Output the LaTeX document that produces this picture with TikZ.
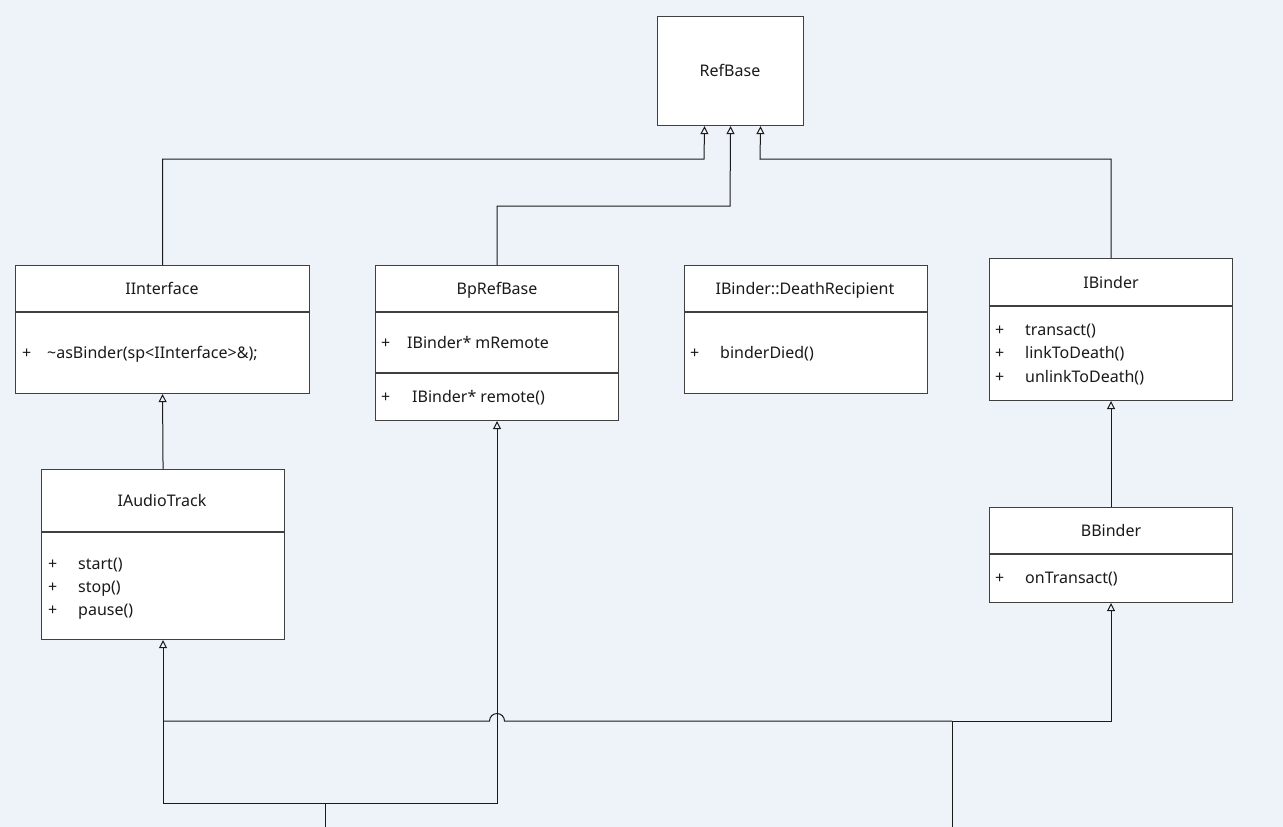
\documentclass[tikz,border=0pt]{standalone}
\usepackage{fontspec}
\setmainfont{Noto Sans}
\usetikzlibrary{arrows.meta}
\definecolor{canvas}{HTML}{EEF2F9}
\definecolor{edge}{HTML}{404040}
\definecolor{ink}{HTML}{1A1A1A}
\begin{document}
\begin{tikzpicture}[x=1pt,y=-1pt,
  font=\fontsize{16}{18}\selectfont,
  cls/.style={draw=edge,line width=1.1pt,fill=white,rectangle,inner sep=0pt,anchor=north west},
  title/.style={text=ink,inner sep=0pt,text height=13pt,text depth=2pt,anchor=center},
  member/.style={text=ink,inner sep=0pt,text height=13pt,text depth=2pt,anchor=west},
  sep/.style={draw=edge,line width=1.1pt},
  inh/.style={draw=ink,line width=1pt,-{Triangle[open,length=8pt,width=8pt]}},
  wire/.style={draw=ink,line width=1pt}]
\fill[canvas] (0,0) rectangle (1283,827);
\useasboundingbox (0,0) rectangle (1283,827);

% RefBase
\node[cls,minimum width=146pt,minimum height=109pt] (refbase) at (657,16) {};
\node[title] (refbaseT) at (730,71) {RefBase};

% IInterface
\node[cls,minimum width=294pt,minimum height=128pt] (iinterface) at (15,265) {};
\draw[sep] (15,312) -- (309,312);
\node[title] (iinterfaceT) at (162,289) {IInterface};
\node[member] (iinterfaceP) at (22,353) {+};
\node[member] (iinterfaceM) at (47,353) {\textasciitilde asBinder(sp<IInterface>\&);};

% BpRefBase
\node[cls,minimum width=243pt,minimum height=155pt] (bprefbase) at (375,265) {};
\draw[sep] (375,312) -- (618,312);
\draw[sep] (375,373) -- (618,373);
\node[title] (bprefbaseT) at (497,289) {BpRefBase};
\node[member] (bprefbaseP1) at (381,343) {+};
\node[member] (bprefbaseM1) at (407,343) {IBinder* mRemote};
\node[member] (bprefbaseP2) at (381,397) {+};
\node[member] (bprefbaseM2) at (412,397) {IBinder* remote()};

% IBinder::DeathRecipient
\node[cls,minimum width=243pt,minimum height=128pt] (death) at (684,265) {};
\draw[sep] (684,312) -- (927,312);
\node[title] (deathT) at (805,289) {IBinder::DeathRecipient};
\node[member] (deathP) at (690,353) {+};
\node[member] (deathM) at (720,353) {binderDied()};

% IBinder
\node[cls,minimum width=243pt,minimum height=142pt] (ibinder) at (989,258) {};
\draw[sep] (989,306) -- (1232,306);
\node[title] (ibinderT) at (1111,283) {IBinder};
\node[member] (ibinderP1) at (995,330) {+};
\node[member] (ibinderM1) at (1025,330) {transact()};
\node[member] (ibinderP2) at (995,353) {+};
\node[member] (ibinderM2) at (1025,353) {linkToDeath()};
\node[member] (ibinderP3) at (995,377) {+};
\node[member] (ibinderM3) at (1025,377) {unlinkToDeath()};

% IAudioTrack
\node[cls,minimum width=243pt,minimum height=170pt] (iaudiotrack) at (41,469) {};
\draw[sep] (41,532) -- (284,532);
\node[title] (iaudiotrackT) at (162,501) {IAudioTrack};
\node[member] (iaudiotrackP1) at (48,564) {+};
\node[member] (iaudiotrackM1) at (78,564) {start()};
\node[member] (iaudiotrackP2) at (48,587) {+};
\node[member] (iaudiotrackM2) at (78,587) {stop()};
\node[member] (iaudiotrackP3) at (48,610) {+};
\node[member] (iaudiotrackM3) at (78,610) {pause()};

% BBinder
\node[cls,minimum width=243pt,minimum height=95pt] (bbinder) at (989,507) {};
\draw[sep] (989,554) -- (1232,554);
\node[title] (bbinderT) at (1111,531) {BBinder};
\node[member] (bbinderP) at (995,578) {+};
\node[member] (bbinderM) at (1025,578) {onTransact()};

% generalisations towards RefBase
\draw[inh] (iinterface.north) |- (704,159) -- ([xshift=-26pt]refbase.south);
\draw[inh] (bprefbase.north) |- (730,206) -- (refbase.south);
\draw[inh] (ibinder.north) |- (760,159) -- ([xshift=30pt]refbase.south);

% IAudioTrack -> IInterface, BBinder -> IBinder
\draw[inh] (iaudiotrack.north) -- (iinterface.south);
\draw[inh] (bbinder.north) -- (ibinder.south);

% lower classes (continuing below)
\coordinate (proxyIn) at (325,827);
\coordinate (nativeIn) at (952,827);
\coordinate (proxyJoin) at (325,803);
\coordinate (nativeJoin) at (952,721);

\draw[wire] (proxyIn) -- (proxyJoin);
\draw[inh] (proxyJoin) -| (iaudiotrack.south);
\draw[inh] (proxyJoin) -| (bprefbase.south);

\draw[wire] (nativeIn) -- (nativeJoin);
\draw[inh] (nativeJoin) -| (bbinder.south);
% line hop over the BpRefBase connector
\draw[wire] (nativeJoin) -- (504.5,721) arc[start angle=0,end angle=-180,radius=7.5] -- (163,721);
\end{tikzpicture}
\end{document}
